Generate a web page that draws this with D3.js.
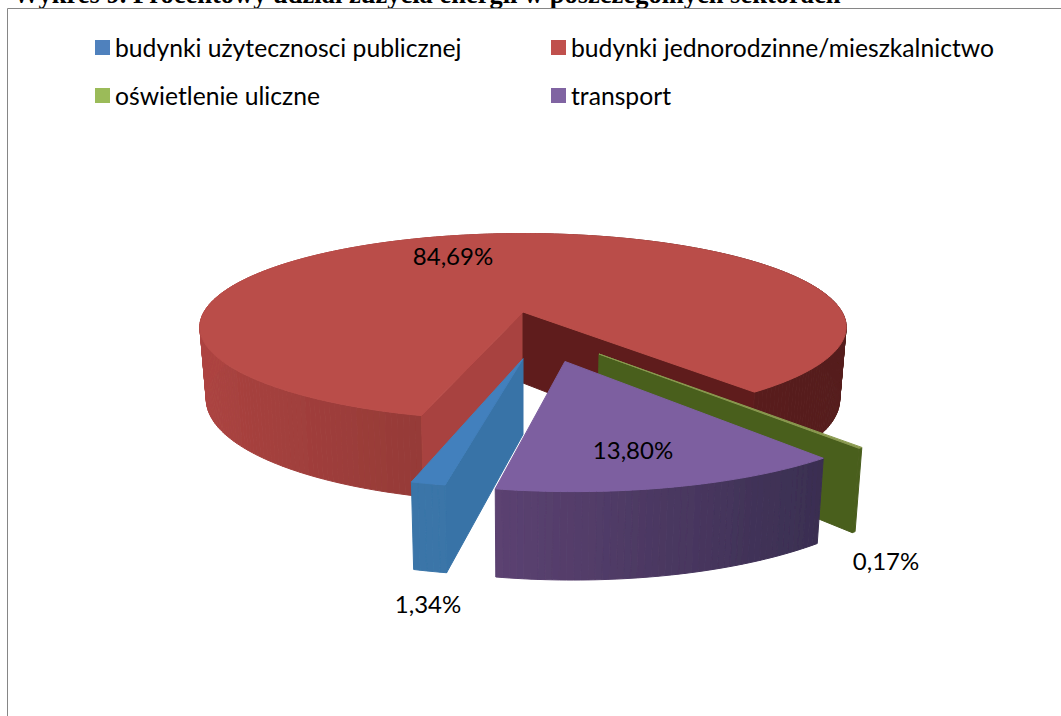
<!DOCTYPE html>
<html>
<head>
<meta charset="utf-8">
<script src="https://d3js.org/d3.v7.min.js"></script>
<style>
  html, body { margin: 0; padding: 0; background: #fff; overflow: hidden; }
  svg { display: block; }
</style>
</head>
<body>
<script>
// Chart data
var chartTitle = "Wykres 9. Procentowy udział zużycia energii w poszczególnych sektorach";
var categories = [
  "budynki użytecznosci publicznej",
  "budynki jednorodzinne/mieszkalnictwo",
  "oświetlenie uliczne",
  "transport"
];
var shares = [1.34, 84.69, 0.17, 13.80];

var svgWidth = 1061;
var svgHeight = 716;

// Ellipse of the pie top, a simple perspective makes the front of it bigger
var pie3d = { cx: 523, cy: 312, rx: 319, ry: 91, persp: 0.16, depth: 71, taper: 0.02 };

// How far each slice is pulled out, in pie radii (across, towards the viewer)
var explode = [[0, 0.475], [0, 0], [0.222, 0.43], [0.121, 0.5]];

// Top faces, legend keys and side shading for each slice
var topColors = ["#4280bd", "#ba4d49", "#8a9a50", "#7d5fa0"];
var keyColors = ["#4f81bd", "#c0504d", "#9bbb59", "#8064a2"];
var wallDomains = [[-1, 1], [-1, -0.26, 0.64, 1], [-1, 1], [-0.2, 0.65]];
var wallRanges = [
  ["#3a75a8", "#3a75a8"],
  ["#ad4441", "#953a37", "#591f1c", "#541e1b"],
  ["#4a5e1f", "#4a5e1f"],
  ["#5c4272", "#392e50"]
];

var svg = d3.select("body")
  .append("svg")
  .attr("width", svgWidth)
  .attr("height", svgHeight);

// The reference is a soft scan, blur the pie a little
svg.append("defs")
  .append("filter")
  .attr("id", "soft")
  .append("feGaussianBlur")
  .attr("stdDeviation", 0.6);

// Title sits mostly cut off at the top of the page
svg.append("text")
  .attr("x", 13)
  .attr("y", 2.5)
  .attr("font-family", "Liberation Serif")
  .attr("font-weight", "bold")
  .attr("font-size", 26.5)
  .text(chartTitle);

// Chart frame, open to the right and the bottom
svg.append("path")
  .attr("d", d3.line()([[7.5, svgHeight], [7.5, 8.5], [svgWidth, 8.5]]))
  .attr("fill", "none")
  .attr("stroke", "#868686");

var color = d3.scaleOrdinal().domain(categories).range(keyColors);

// Legend, two columns by two rows
var legendX = d3.scalePoint().domain([0, 1]).range([95, 551]);
var legendY = d3.scalePoint().domain([0, 1]).range([40, 88]);

var legend = svg.selectAll(".legend")
  .data(categories)
  .enter()
  .append("g")
  .attr("class", "legend")
  .attr("transform", (d, i) => `translate(${legendX(i % 2)}, ${legendY(Math.floor(i / 2))})`);

legend.append("rect")
  .attr("width", 15)
  .attr("height", 15)
  .attr("fill", d => color(d));

legend.append("text")
  .attr("x", 20)
  .attr("y", 17)
  .attr("font-family", "Lato")
  .attr("font-size", 24.7)
  .attr("fill", "#000")
  .text(d => d);

// Pie angles, the first slice starts just left of straight down
var startDeg = 190.8;
var slices = d3.pie()
  .sort(null)
  .startAngle(startDeg * Math.PI / 180)
  .endAngle((startDeg + 360) * Math.PI / 180)(shares);

// Disk coordinates (u across, v to the viewer, h down) to the screen
function project(u, v, h) {
  var s = 1 / (1 - pie3d.persp * v);
  var k = 1 - pie3d.taper * h;
  return [
    pie3d.cx + pie3d.rx * u * s * k,
    pie3d.cy + pie3d.ry * v * s + pie3d.depth * h * Math.pow(s, 0.8)
  ];
}

function rim(angle, off, h) {
  return project(off[0] + Math.sin(angle), off[1] - Math.cos(angle), h);
}

function arcAngles(a0, a1) {
  var n = Math.max(1, Math.ceil((a1 - a0) / (Math.PI / 180)));
  return d3.range(n + 1).map(i => a0 + (a1 - a0) * i / n);
}

var line = d3.line();
var pieGroup = svg.append("g").attr("filter", "url(#soft)");

function drawShape(points, fill) {
  pieGroup.append("path")
    .attr("d", line(points) + "Z")
    .attr("fill", fill)
    .attr("stroke", fill)
    .attr("stroke-width", 1);
}

function drawCut(angle, off, fill) {
  drawShape([
    project(off[0], off[1], 0),
    rim(angle, off, 0),
    rim(angle, off, 1),
    project(off[0], off[1], 1)
  ], fill);
}

// Outer wall as thin strips so the shade can follow the curve
function drawWall(d, off, shade) {
  var angles = arcAngles(d.startAngle, d.endAngle);
  d3.pairs(angles).forEach(function(p) {
    drawShape([rim(p[0], off, 0), rim(p[1], off, 0), rim(p[1], off, 1), rim(p[0], off, 1)],
      shade(Math.sin((p[0] + p[1]) / 2)));
  });
}

function drawTop(d, off, fill) {
  var points = arcAngles(d.startAngle, d.endAngle).map(a => rim(a, off, 0));
  drawShape([project(off[0], off[1], 0)].concat(points), fill);
}

function shadeOf(i) {
  return d3.scaleLinear().domain(wallDomains[i]).range(wallRanges[i]).clamp(true);
}

// Painter's order, back to front: red, green, blue, purple
var red = slices[1], green = slices[2], blue = slices[0], purple = slices[3];

drawWall(red, explode[1], shadeOf(1));
drawCut(red.startAngle, explode[1], "#a8433f");
drawCut(red.endAngle, explode[1], "#5f1f1c");
drawTop(red, explode[1], topColors[1]);

drawWall(green, explode[2], shadeOf(2));
drawCut(green.endAngle, explode[2], "#4a5e1f");
drawTop(green, explode[2], topColors[2]);

drawCut(blue.startAngle, explode[0], "#3873a7");
drawWall(blue, explode[0], shadeOf(0));
drawTop(blue, explode[0], topColors[0]);

drawWall(purple, explode[3], shadeOf(3));
drawTop(purple, explode[3], topColors[3]);

// Value labels with a decimal comma
var percent = d3.formatLocale({ decimal: ",", thousands: " ", grouping: [3], currency: ["", ""] }).format(".2f");
var labelX = [428, 453, 886, 633];
var labelY = [613, 265, 570, 459];

svg.selectAll(".value")
  .data(shares)
  .enter()
  .append("text")
  .attr("class", "value")
  .attr("x", (d, i) => labelX[i])
  .attr("y", (d, i) => labelY[i])
  .attr("text-anchor", "middle")
  .attr("font-family", "Lato")
  .attr("font-size", 24)
  .attr("fill", "#000")
  .text(d => percent(d) + "%");
</script>
</body>
</html>
